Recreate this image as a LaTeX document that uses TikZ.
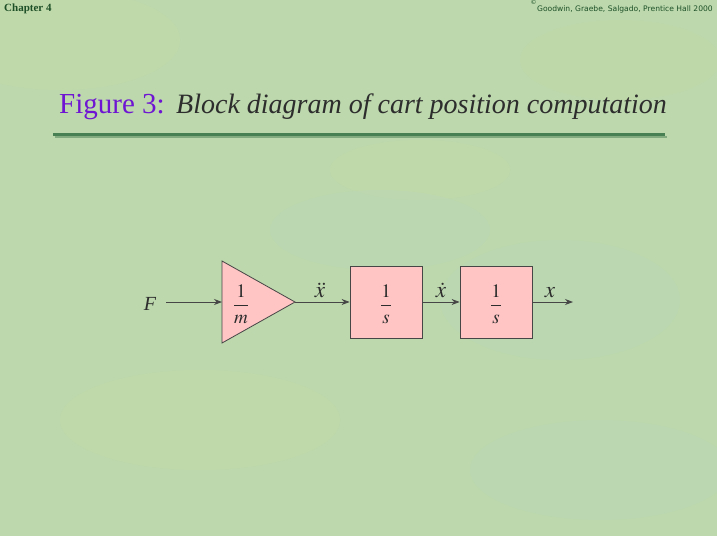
\documentclass[tikz,border=0pt]{standalone}
\usepackage{mathptmx}
\usepackage{fontspec}
\setmainfont{Liberation Serif}
\newfontfamily\credfont{DejaVu Sans}
\usetikzlibrary{arrows.meta}
\definecolor{bggreen}{RGB}{188,216,172}
\definecolor{bgyellow}{RGB}{212,222,165}
\definecolor{bgblue}{RGB}{178,214,200}
\definecolor{blockpink}{RGB}{255,196,196}
\definecolor{edgegray}{RGB}{70,70,70}
\definecolor{titlepurple}{RGB}{110,20,210}
\definecolor{titlegray}{RGB}{45,45,45}
\definecolor{rulegreen}{RGB}{72,128,84}
\definecolor{headgreen}{RGB}{30,80,40}
\tikzset{
  blockbox/.style={draw=edgegray, fill=blockpink, line width=0.8pt, minimum width=72pt, minimum height=72pt, inner sep=0pt},
  conn/.style={draw=edgegray, line width=0.8pt, -{Stealth[length=8pt,width=6pt]}},
  sig/.style={scale=2.3, inner sep=0pt, anchor=base, text=titlegray},
  frac/.style={scale=1.9, inner sep=0pt, text=titlegray},
}
\begin{document}
\begin{tikzpicture}[x=1pt,y=-1pt]
\useasboundingbox (0,0) rectangle (717,536);
% background
\fill[bggreen] (0,0) rectangle (717,536);
\fill[bgyellow,opacity=0.2] (60,40) ellipse (120 and 50);
\fill[bgyellow,opacity=0.2] (420,170) ellipse (90 and 30);
\fill[bgblue,opacity=0.2] (380,230) ellipse (110 and 40);
\fill[bgblue,opacity=0.18] (560,300) ellipse (120 and 60);
\fill[bgyellow,opacity=0.18] (200,420) ellipse (140 and 50);
\fill[bgblue,opacity=0.18] (600,470) ellipse (130 and 50);
\fill[bgyellow,opacity=0.15] (620,60) ellipse (100 and 40);
% header
\node[anchor=west, inner sep=0pt, text=headgreen, font=\fontsize{11}{13}\selectfont\bfseries] (chap) at (4,9) {Chapter 4};
\node[anchor=east, inner sep=0pt, text=headgreen, font=\credfont\fontsize{7.6}{9}\selectfont] (cred) at (713,9) {Goodwin, Graebe, Salgado, Prentice Hall 2000};
\node[anchor=south east, inner sep=0pt, text=headgreen, font=\credfont\fontsize{6}{7}\selectfont] (copy) at (cred.north west) {©};
% title
\node[anchor=base west, inner sep=0pt, text=titlepurple, font=\fontsize{29}{35}\selectfont] (fig) at (59,113) {Figure 3:};
\node[anchor=base west, inner sep=0pt, text=titlegray, font=\fontsize{28}{33}\selectfont\itshape] (ttl) at (176,113) {Block diagram of cart position computation};
\draw[rulegreen!50!bggreen, line width=2pt] (55,137) -- (667,137);
\draw[rulegreen, line width=3pt] (53,134) -- (665,134);
% diagram
\node[font=\fontsize{20}{23}\selectfont\itshape, inner sep=0pt, anchor=base, text=titlegray] (F) at (150,310) {F};
\coordinate (fstart) at (166,302);
\coordinate (gin) at (222,302);
\coordinate (gout) at (295,302);
\filldraw[draw=edgegray, fill=blockpink, line width=0.8pt, line join=miter] (222,261) -- (gout) -- (222,343) -- cycle;
\node[frac] (gain) at (241,304) {$\displaystyle\frac{1}{m}$};
\node[blockbox] (int1) at (386,302) {};
\node[frac] (int1t) at (386,304) {$\displaystyle\frac{1}{s}$};
\node[blockbox] (int2) at (496,302) {};
\node[frac] (int2t) at (496,304) {$\displaystyle\frac{1}{s}$};
\coordinate (out) at (573,302);
\draw[conn] (fstart) -- (gin);
\draw[conn] (gout) -- (int1.west);
\draw[conn] (int1.east) -- (int2.west);
\draw[conn] (int2.east) -- (out);
\node[sig] (xdd) at (320,297) {$\ddot{x}$};
\node[sig] (xd) at (441,297) {$\dot{x}$};
\node[sig] (xx) at (550,297) {$x$};
\end{tikzpicture}
\end{document}
